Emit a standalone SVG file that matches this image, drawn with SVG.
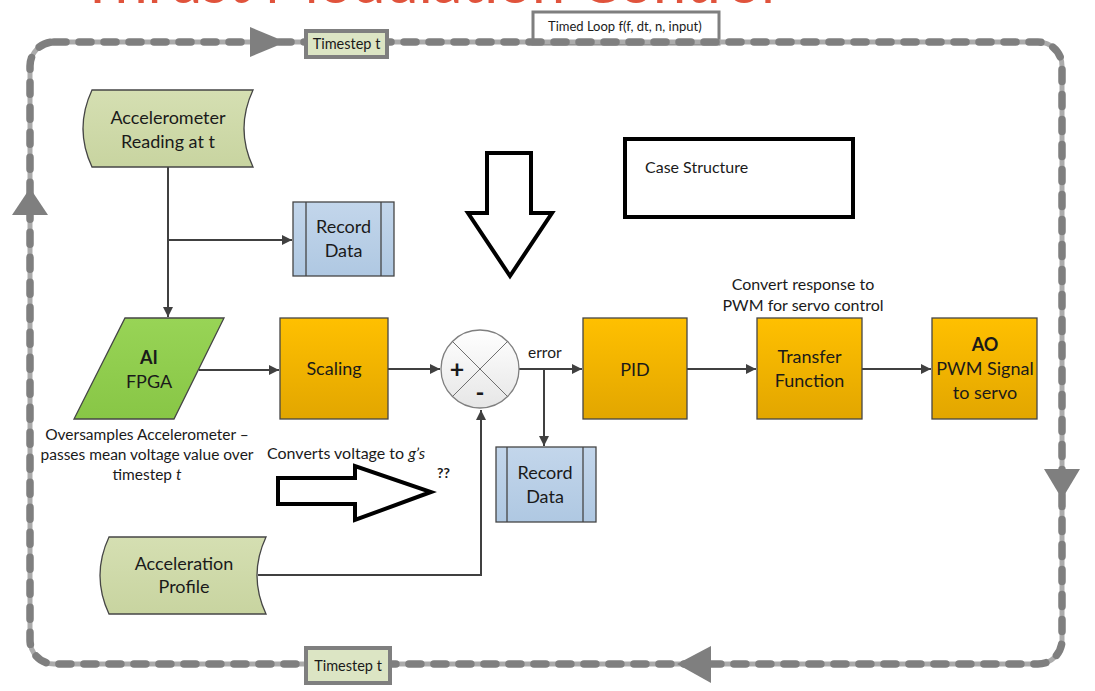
<svg xmlns="http://www.w3.org/2000/svg" width="1095" height="691" viewBox="0 0 1095 691">
<defs>
  <linearGradient id="gOrange" x1="0" y1="0" x2="0" y2="1">
    <stop offset="0" stop-color="#FFC000"/>
    <stop offset="1" stop-color="#E2A600"/>
  </linearGradient>
  <linearGradient id="gBlue" x1="0" y1="0" x2="0" y2="1">
    <stop offset="0" stop-color="#C3D6EB"/>
    <stop offset="1" stop-color="#AFC8E2"/>
  </linearGradient>
  <linearGradient id="gOlive" x1="0" y1="0" x2="0" y2="1">
    <stop offset="0" stop-color="#D5DFB2"/>
    <stop offset="1" stop-color="#C8D4A0"/>
  </linearGradient>
  <linearGradient id="gGreen" x1="0" y1="0" x2="0" y2="1">
    <stop offset="0" stop-color="#98D456"/>
    <stop offset="1" stop-color="#88C646"/>
  </linearGradient>
  <linearGradient id="gCircle" x1="0" y1="0" x2="0" y2="1">
    <stop offset="0" stop-color="#FFFFFF"/>
    <stop offset="1" stop-color="#E6E6E6"/>
  </linearGradient>
  <marker id="arr" viewBox="0 0 10 10" refX="10" refY="5" markerWidth="10" markerHeight="10" markerUnits="userSpaceOnUse" orient="auto">
    <path d="M0,0 L10,5 L0,10 Z" fill="#404040"/>
  </marker>
  <style>
    text { font-family: Lato, "Open Sans", "Liberation Sans", sans-serif; fill: #1a1a1a; }
    .lbl { font-size: 18px; text-anchor: middle; }
    .cap { font-size: 15.5px; text-anchor: middle; }
    .cap2 { font-size: 16px; text-anchor: middle; }
    .small { font-size: 14.5px; }
    .node { stroke: #454545; stroke-width: 1.3; }
    .conn { fill: none; stroke: #404040; stroke-width: 2; }
    .loopbase { fill: none; stroke: #ABABAB; stroke-width: 5; }
    .loopdash { fill: none; stroke: #7F7F7F; stroke-width: 7.5; stroke-dasharray: 12 13; stroke-linecap: round; }
    .looparrow { fill: #7F7F7F; }
    .tbox { fill: #DCE5C4; stroke: #7F7F7F; stroke-width: 4; }
    .block { fill: #FFFFFF; stroke: #000000; stroke-width: 4; stroke-linejoin: miter; }
  </style>
</defs>

<!-- cut-off title -->
<text x="80" y="3" font-size="58" style="fill:#E0533C;font-family:Lato,'Liberation Sans',sans-serif" textLength="695" lengthAdjust="spacingAndGlyphs">Thrust Modulation Control</text>

<!-- Timed loop -->
<g id="timed-loop">
  <rect x="533" y="12" width="186" height="32" fill="#FFFFFF" stroke="#7F7F7F" stroke-width="3"/>
  <text x="548" y="31" font-size="13">Timed Loop f(f, dt, n, input)</text>
  <rect class="loopbase" x="30" y="42" width="1032" height="622" rx="24"/>
  <rect class="loopdash" x="30" y="42" width="1032" height="622" rx="24"/>
  <polygon class="looparrow" points="250,27 286,42 250,57"/>
  <polygon class="looparrow" points="30,188 12,215 48,215"/>
  <polygon class="looparrow" points="1044,469 1080,469 1062,499"/>
  <polygon class="looparrow" points="677,664 711,646 711,683"/>
</g>

<g id="timestep-top">
  <rect class="tbox" x="306" y="31" width="81" height="26"/>
  <text class="small" x="346.5" y="49" text-anchor="middle">Timestep t</text>
</g>
<g id="timestep-bottom">
  <rect class="tbox" x="306" y="648" width="84" height="35"/>
  <text class="small" x="348" y="671" text-anchor="middle">Timestep t</text>
</g>

<!-- Connectors -->
<g id="connectors">
  <path class="conn" d="M168,167 L168,317" marker-end="url(#arr)"/>
  <path class="conn" d="M168,240 L292,240" marker-end="url(#arr)"/>
  <path class="conn" d="M199,370 L279,370" marker-end="url(#arr)"/>
  <path class="conn" d="M388,369 L440,369" marker-end="url(#arr)"/>
  <path class="conn" d="M519,369 L582,369" marker-end="url(#arr)"/>
  <path class="conn" d="M544,369 L544,446" marker-end="url(#arr)"/>
  <path class="conn" d="M258,575 L481,575 L481,410" marker-end="url(#arr)"/>
  <path class="conn" d="M687,369 L756,369" marker-end="url(#arr)"/>
  <path class="conn" d="M862,369 L931,369" marker-end="url(#arr)"/>
</g>

<g id="accelerometer">
  <path class="node" fill="url(#gOlive)" d="M92,90 L253,90 Q235,128.5 253,167 L92,167 Q74,128.5 92,90 Z"/>
  <text class="lbl" x="168" y="124">Accelerometer</text>
  <text class="lbl" x="168" y="148">Reading at t</text>
</g>

<g id="record-data-1">
  <rect class="node" fill="url(#gBlue)" x="293" y="202" width="101" height="74"/>
  <line class="node" x1="306" y1="202" x2="306" y2="276"/>
  <line class="node" x1="381" y1="202" x2="381" y2="276"/>
  <text class="lbl" x="343.5" y="233">Record</text>
  <text class="lbl" x="343.5" y="257">Data</text>
</g>

<g id="ai-fpga">
  <polygon class="node" fill="url(#gGreen)" points="125,318 224,318 174,419 74,419"/>
  <text class="lbl" x="149" y="364" font-weight="bold">AI</text>
  <text class="lbl" x="149" y="388">FPGA</text>
</g>
<g id="ai-caption">
  <text class="cap" x="147" y="440">Oversamples Accelerometer –</text>
  <text class="cap" x="147" y="460">passes mean voltage value over</text>
  <text class="cap" x="147" y="480">timestep <tspan font-style="italic">t</tspan></text>
</g>

<g id="scaling">
  <rect class="node" fill="url(#gOrange)" x="280" y="318" width="108" height="101"/>
  <text class="lbl" x="334" y="375">Scaling</text>
</g>
<g id="scaling-caption">
  <text x="267" y="459" font-size="16">Converts voltage to <tspan font-style="italic">g’s</tspan></text>
</g>

<g id="summing-junction">
  <circle cx="480" cy="369" r="39" fill="url(#gCircle)" stroke="#7F7F7F" stroke-width="1.3"/>
  <line x1="452.4" y1="341.4" x2="507.6" y2="396.6" stroke="#6F6F6F" stroke-width="1"/>
  <line x1="507.6" y1="341.4" x2="452.4" y2="396.6" stroke="#6F6F6F" stroke-width="1"/>
  <text x="457" y="378" font-size="25" font-weight="bold" text-anchor="middle">+</text>
  <text x="480" y="401" font-size="24" font-weight="bold" text-anchor="middle">-</text>
</g>
<text x="528" y="358" font-size="15.5">error</text>

<g id="pid">
  <rect class="node" fill="url(#gOrange)" x="583" y="318" width="104" height="101"/>
  <text class="lbl" x="635" y="376">PID</text>
</g>

<g id="record-data-2">
  <rect class="node" fill="url(#gBlue)" x="496" y="447" width="100" height="75"/>
  <line class="node" x1="507" y1="447" x2="507" y2="522"/>
  <line class="node" x1="583" y1="447" x2="583" y2="522"/>
  <text class="lbl" x="545" y="479">Record</text>
  <text class="lbl" x="545" y="503">Data</text>
</g>

<g id="transfer-function">
  <rect class="node" fill="url(#gOrange)" x="757" y="318" width="105" height="101"/>
  <text class="lbl" x="809.5" y="363">Transfer</text>
  <text class="lbl" x="809.5" y="387">Function</text>
</g>
<g id="tf-caption">
  <text class="cap2" x="803" y="290">Convert response to</text>
  <text class="cap2" x="803" y="311">PWM for servo control</text>
</g>

<g id="ao">
  <rect class="node" fill="url(#gOrange)" x="932" y="318" width="105" height="101"/>
  <text class="lbl" x="985" y="351" font-weight="bold">AO</text>
  <text class="lbl" x="985" y="375">PWM Signal</text>
  <text class="lbl" x="985" y="399">to servo</text>
</g>

<g id="acceleration-profile">
  <path class="node" fill="url(#gOlive)" d="M109,537 L266,537 Q248,575.5 266,614 L109,614 Q91,575.5 109,537 Z"/>
  <text class="lbl" x="184" y="570">Acceleration</text>
  <text class="lbl" x="184" y="593">Profile</text>
</g>

<g id="case-structure">
  <rect x="625" y="139" width="228" height="78" fill="#FFFFFF" stroke="#000000" stroke-width="4"/>
  <text x="645" y="173" font-size="16">Case Structure</text>
</g>

<g id="down-arrow">
  <polygon class="block" points="487,153 531,153 531,213 552,213 510,276 468,213 487,213"/>
</g>
<g id="right-arrow">
  <polygon class="block" points="278,478 355,478 355,466 431,492 355,520 355,504 278,504"/>
</g>
<text x="437" y="478" font-size="14" font-weight="bold">??</text>
</svg>
